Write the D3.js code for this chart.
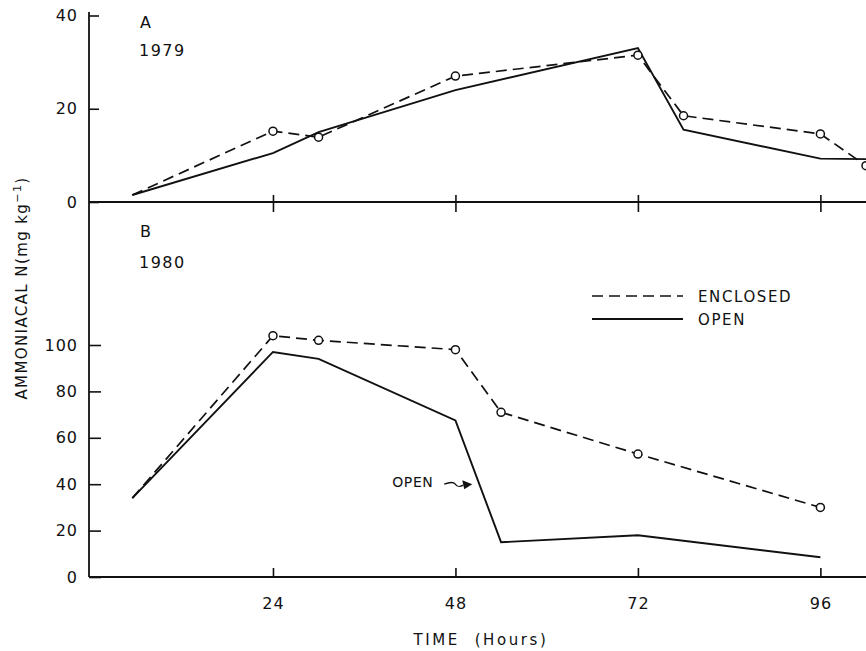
<!DOCTYPE html>
<html>
<head>
<meta charset="utf-8">
<script src="https://cdn.jsdelivr.net/npm/d3@7"></script>
<style>
  html, body { margin: 0; padding: 0; background: #fff; }
  svg { display: block; }
  text { font-family: "DejaVu Sans", sans-serif; fill: #111; }
</style>
</head>
<body>
<svg id="chart" width="866" height="651"></svg>
<script>
// Ammoniacal N in soil over time, 1979 (A) and 1980 (B)
const hours1979 = [5.5, 24, 30, 48, 72, 78, 96, 102];
const open1979 = [1.5, 10.5, 15, 24, 33, 15.5, 9.3, 9.2];
const enclosed1979 = [1.5, 15.2, 13.9, 27, 31.5, 18.5, 14.6, 7.8];

const hours1980 = [5.5, 24, 30, 48, 54, 72, 96];
const open1980 = [34, 97, 94, 67.5, 15, 18, 8.5];
const enclosed1980 = [34, 104, 102, 98, 71, 53, 30];

const xTicks = [24, 48, 72, 96];
const yTicks1979 = [0, 20, 40];
const yTicks1980 = [0, 20, 40, 60, 80, 100];

const seriesNames = ["ENCLOSED", "OPEN"];
// point on the OPEN 1980 curve that the annotation arrow points to
const openNote = { hour: 51, value: 40 };

const svg = d3.select("#chart");
const ink = "#111";

const x = d3.scaleLinear().domain([0, 102]).range([90.5, 866]);
const yA = d3.scaleLinear().domain([0, 40]).range([202, 15.5]);
const yB = d3.scaleLinear().domain([0, 100]).range([577, 345]);

// shared vertical axis line running through both panels
svg.append("line")
  .attr("x1", x(0) - 1.5).attr("x2", x(0) - 1.5)
  .attr("y1", yA(40) - 3.5).attr("y2", yB(0))
  .attr("stroke", ink).attr("stroke-width", 1.8);

function styleAxis(g) {
  g.select(".domain").remove();
  g.selectAll("line").attr("stroke", ink).attr("stroke-width", 1.6);
  g.selectAll("text")
    .style("font-family", "'DejaVu Sans', sans-serif")
    .style("font-size", "16px")
    .style("letter-spacing", "1px")
    .attr("fill", ink);
}

// Panel A y axis
svg.append("g")
  .attr("transform", `translate(${x(0) - 1.5},0)`)
  .call(d3.axisLeft(yA).tickValues(yTicks1979).tickSize(-10).tickPadding(11).tickFormat(d3.format("d")))
  .call(styleAxis);

// Panel B y axis
svg.append("g")
  .attr("transform", `translate(${x(0) - 1.5},0)`)
  .call(d3.axisLeft(yB).tickValues(yTicks1980).tickSize(-12).tickPadding(11).tickFormat(d3.format("d")))
  .call(styleAxis);

// Panel A x axis (ticks cross the line, no labels)
const gxA = svg.append("g")
  .attr("transform", `translate(0,${yA(0)})`)
  .call(d3.axisBottom(x).tickValues(xTicks).tickSize(10).tickSizeOuter(0).tickFormat(""));
gxA.select(".domain").attr("stroke", ink).attr("stroke-width", 1.8);
gxA.selectAll(".tick line").attr("y1", -7).attr("stroke", ink).attr("stroke-width", 1.6);
gxA.selectAll(".domain").attr("d", `M${x(0) - 1.5},0H866`);

// Panel B x axis
const gxB = svg.append("g")
  .attr("transform", `translate(0,${yB(0)})`)
  .call(d3.axisBottom(x).tickValues(xTicks).tickSize(-9).tickSizeOuter(0).tickPadding(21).tickFormat(d3.format("d")));
gxB.select(".domain").attr("stroke", ink).attr("stroke-width", 1.8).attr("d", `M${x(0) - 1.5},0H866`);
gxB.selectAll(".tick line").attr("stroke", ink).attr("stroke-width", 1.6);
gxB.selectAll("text")
  .style("font-family", "'DejaVu Sans', sans-serif")
  .style("font-size", "16px")
  .style("letter-spacing", "1px")
  .attr("fill", ink);

function drawPanel(hours, openVals, enclosedVals, y) {
  const line = d3.line().x(d => x(d[0])).y(d => y(d[1]));
  const openPts = hours.map((h, i) => [h, openVals[i]]);
  const encPts = hours.map((h, i) => [h, enclosedVals[i]]);
  svg.append("path").attr("d", line(openPts))
    .attr("fill", "none").attr("stroke", ink).attr("stroke-width", 1.9)
    .attr("stroke-linejoin", "miter");
  svg.append("path").attr("d", line(encPts))
    .attr("fill", "none").attr("stroke", ink).attr("stroke-width", 1.7)
    .attr("stroke-dasharray", "11,6");
  svg.selectAll(null).data(encPts.slice(1)).enter().append("circle")
    .attr("cx", d => x(d[0])).attr("cy", d => y(d[1])).attr("r", 4)
    .attr("fill", "#fff").attr("stroke", ink).attr("stroke-width", 1.5);
}

drawPanel(hours1979, open1979, enclosed1979, yA);
drawPanel(hours1980, open1980, enclosed1980, yB);

// Panel letters and years
const lab = (t, px, py, size, ls) => svg.append("text")
  .attr("x", px).attr("y", py).text(t)
  .style("font-size", size + "px").style("letter-spacing", ls + "px");
lab("A", 140, 28, 16, 1);
lab("1979", 139, 56, 16, 1.5);
lab("B", 140, 237, 16, 1);
lab("1980", 139, 268, 16, 1.5);

// Legend
const lg = svg.append("g").attr("transform", "translate(592,296)");
lg.append("line").attr("x1", 0).attr("x2", 91).attr("y1", 0).attr("y2", 0)
  .attr("stroke", ink).attr("stroke-width", 1.7).attr("stroke-dasharray", "11,6");
lg.append("line").attr("x1", 0).attr("x2", 91).attr("y1", 23).attr("y2", 23)
  .attr("stroke", ink).attr("stroke-width", 1.9);
lg.selectAll("text").data(seriesNames).enter().append("text")
  .attr("x", 106).attr("y", (d, i) => 6 + i * 23)
  .text(d => d)
  .style("font-size", "15px").style("letter-spacing", "1.6px");

// OPEN annotation with curly arrow
const tipX = x(openNote.hour) - 6, tipY = yB(openNote.value) + 0;
svg.append("text").attr("x", tipX - 80).attr("y", tipY + 3).text("OPEN")
  .style("font-size", "14px").style("letter-spacing", "0.6px");
svg.append("path")
  .attr("d", `M${tipX - 28},${tipY} C${tipX - 23},${tipY - 2} ${tipX - 19},${tipY - 3} ${tipX - 17},${tipY} C${tipX - 15},${tipY + 3} ${tipX - 13},${tipY + 3} ${tipX - 9},${tipY + 1}`)
  .attr("fill", "none").attr("stroke", ink).attr("stroke-width", 1.4);
svg.append("path")
  .attr("d", `M${tipX},${tipY} L${tipX - 10},${tipY - 4} L${tipX - 8},${tipY + 5} Z`)
  .attr("fill", ink);

// Axis titles
svg.append("text")
  .attr("transform", "translate(27,288) rotate(-90)")
  .attr("text-anchor", "middle")
  .style("font-size", "15px").style("letter-spacing", "1.4px")
  .call(t => {
    t.append("tspan").text("AMMONIACAL  N(mg  kg");
    t.append("tspan").attr("dy", -6).style("font-size", "11px").text("−1");
    t.append("tspan").attr("dy", 6).text(")");
  });

svg.append("text")
  .attr("x", 481).attr("y", 645)
  .attr("text-anchor", "middle")
  .style("font-size", "15px").style("letter-spacing", "2.6px")
  .attr("xml:space", "preserve")
  .text("TIME  (Hours)");
</script>
</body>
</html>
